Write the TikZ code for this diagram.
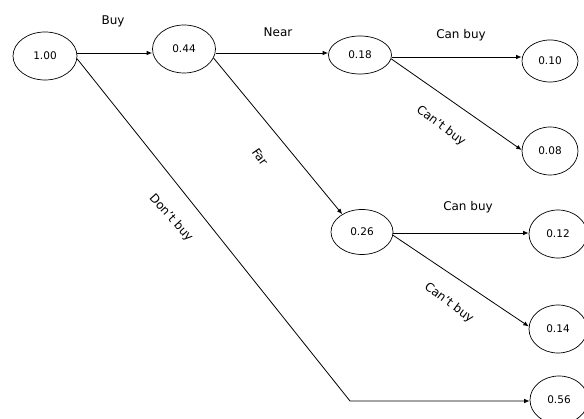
\documentclass[tikz,border=0pt]{standalone}
\usepackage{fontspec}
\setmainfont{DejaVu Sans}
\usetikzlibrary{shapes.geometric,arrows.meta}
\begin{document}
\begin{tikzpicture}[x=1pt,y=-1pt,
  st/.style={draw,ellipse,line width=0.7pt,inner sep=0pt,font=\fontsize{10.5}{12}\selectfont},
  arr/.style={line width=0.8pt,-{Latex[length=5.5pt,width=4.5pt]}},
  lbl/.style={font=\fontsize{12}{13}\selectfont,inner sep=0pt}]
\useasboundingbox (0,0) rectangle (584,419);
\begin{scope}
\clip (0,0) rectangle (584,419);
\node[st,minimum width=64pt,minimum height=48pt] (n1) at (45,56) {1.00};
\node[st,minimum width=63pt,minimum height=48pt] (n2) at (184,49) {0.44};
\node[st,minimum width=63pt,minimum height=38pt] (n3) at (360,55) {0.18};
\node[st,minimum width=56pt,minimum height=42pt] (n4) at (550,61) {0.10};
\node[st,minimum width=56pt,minimum height=48pt] (n5) at (550,151) {0.08};
\node[st,minimum width=62pt,minimum height=45pt] (n6) at (362,232) {0.26};
\node[st,minimum width=58pt,minimum height=48pt] (n7) at (558,234) {0.12};
\node[st,minimum width=58pt,minimum height=48pt] (n8) at (558,329) {0.14};
\node[st,minimum width=58pt,minimum height=48pt] (n9) at (559,400) {0.56};
\end{scope}
\coordinate (bend) at (350,401);
\draw[arr] (n1.east |- 0,53) -- (n2.west |- 0,53);
\draw[arr] (n2.east |- 0,53) -- (n3.west |- 0,53);
\draw[arr] (n2.-17) -- (n6.138);
\draw[arr] (n3.east |- 0,57) -- (n4.west |- 0,57);
\draw[arr] (n3.-7) -- (n5.178);
\draw[arr] (n6.east |- 0,233) -- (n7.west |- 0,233);
\draw[arr] (n6.-6) -- (n8.175);
\draw[arr] (n1.-5) -- (bend) -- (n9.west |- bend);
\node[lbl] (lbuy) at (113,21) {Buy};
\node[lbl] (lnear) at (278,32) {Near};
\node[lbl,rotate=-55] (lfar) at (260,157) {Far};
\node[lbl] (lcan1) at (461,35) {Can buy};
\node[lbl,rotate=-37] (lcant1) at (441,126) {Can't buy};
\node[lbl] (lcan2) at (468,207) {Can buy};
\node[lbl,rotate=-37] (lcant2) at (449,303) {Can't buy};
\node[lbl,rotate=-48] (ldont) at (171,218) {Don't buy};
\end{tikzpicture}
\end{document}
